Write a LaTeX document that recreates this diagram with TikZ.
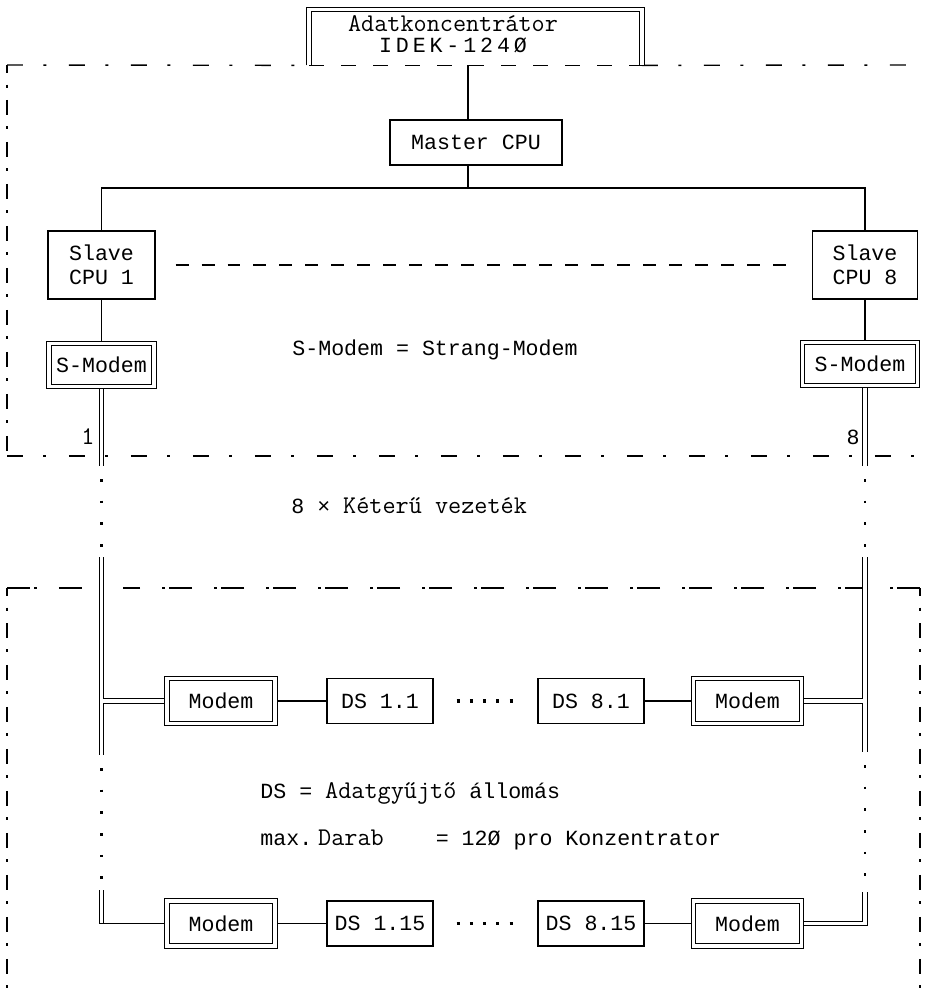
\documentclass[tikz,border=0pt]{standalone}
\usepackage{fontspec}
\usetikzlibrary{positioning,calc,backgrounds}
\newfontfamily\dmfont{Liberation Mono}
\newfontfamily\dmwidefont{Liberation Mono}[LetterSpace=18]
\newcommand\dmtxt{\dmfont\fontsize{12.3}{13.7}\selectfont}
\newcommand\dmwide{\dmwidefont\fontsize{12.3}{13.7}\selectfont}
\newcommand\twtxt{\ttfamily\addfontfeatures{FakeBold=0.7}\fontsize{14.5}{17}\selectfont}
\tikzset{
  box/.style={rectangle, draw, line width=0.6pt, fill=white, inner sep=0pt,
    align=center, font=\dmtxt},
  dbox/.style={box, double, double distance=0.07cm},
  bus/.style={line width=0.6pt},
  dbus/.style={line width=0.6pt, double, double distance=0.07cm},
  dotrun/.style={line width=1.4pt, dash pattern=on 0.05cm off 0.384cm,
    shorten <=0.26cm},
  rowdots/.style={line width=1.8pt, dash pattern=on 0.06cm off 0.206cm,
    shorten <=0.46cm, shorten >=0.48cm},
  fenceH/.style={line width=0.8pt,
    dash pattern=on 0.32cm off 0.41cm on 0.06cm off 0.45cm},
  fenceV/.style={line width=0.8pt,
    dash pattern=on 0.3cm off 0.23cm on 0.06cm off 0.25cm, dash phase=0.14cm},
  fenceL/.style={line width=0.8pt,
    dash pattern=on 0.46cm off 0.09cm on 0.06cm off 0.43cm},
  seam/.style={line width=0.7pt, dash pattern=on 0.3cm off 0.34cm},
  pairdash/.style={line width=0.7pt, dash pattern=on 0.26cm off 0.26cm},
  lbl/.style={inner sep=0pt, font=\dmtxt},
}
\begin{document}
\begin{tikzpicture}[x=0.02cm, y=-0.02cm]
\useasboundingbox (0,0) rectangle (934,988);

\def\xl{101.5}   % linker Strang
\def\xr{865}     % rechter Strang
\def\ybus{188}   % Verteiler unter Master CPU

% Konzentrator, unten offen
\node[minimum width=6.64cm, minimum height=1.1cm, inner sep=0pt,
  label={[xshift=-0.45cm, yshift=0.06cm, align=center, inner sep=0pt]center:%
    {\twtxt Adatkoncentrátor}\\{\dmwide IDEK-124Ø}}]
  (conc) at (475.5,37.5) {};
\draw[dbus] (conc.south west) |- (conc.north) -| (conc.south east);

\node[box, minimum width=3.44cm, minimum height=0.9cm] (master) at (476,142.5)
  {Master CPU};
\node[box, minimum width=2.14cm, minimum height=1.36cm] (slA) at (\xl,265)
  {Slave\\CPU 1};
\node[box, minimum width=2.1cm, minimum height=1.36cm] (slB) at (\xr,265)
  {Slave\\CPU 8};
\node[dbox, minimum width=2.1cm, minimum height=0.86cm] (smA) at (\xl,365)
  {S-Modem};
\node[dbox, minimum width=2.3cm, minimum height=0.86cm] (smB) at (860,364)
  {S-Modem};

\node[lbl, font=\twtxt] (nA) at (88,437) {1};
\node[lbl] (nB) at (853,437) {8};
\node[lbl, anchor=base west] (smnote) at (292,355) {S-Modem = Strang-Modem};
\node[lbl, anchor=base west] (wires) at (291,513)
  {8 × {\twtxt Kéterű vezeték}};
\node[lbl, anchor=base west] (dsnote) at (260,798)
  {DS = {\twtxt Adatgyűjtő} állomás};
\node[lbl, anchor=base west] (maxnote) at (260,845)
  {max.\hspace{0.12cm}{\twtxt Darab}\hspace{1.04cm}= 12Ø pro Konzentrator};

% Datenstationen, zwei Reihen
\foreach \r/\yr/\da/\db in {1/701/1.1/8.1, 2/923.5/1.15/8.15}{
  \node[dbox, minimum width=2.16cm, minimum height=0.9cm] (mA\r) at (221,\yr)
    {Modem};
  \node[box, minimum width=2.12cm, minimum height=0.9cm] (dA\r) at (380,\yr)
    {DS \da};
  \node[box, minimum width=2.12cm, minimum height=0.9cm] (dB\r) at (591,\yr)
    {DS \db};
  \node[dbox, minimum width=2.16cm, minimum height=0.9cm] (mB\r) at (747.5,\yr)
    {Modem};
}

\coordinate (busc) at (468,\ybus);
\coordinate (a1) at (\xl,466);
\coordinate (a2) at (\xl,557);
\coordinate (a3) at (\xl,755);
\coordinate (a4) at (\xl,890);
\coordinate (b1) at (\xr,466);
\coordinate (b2) at (\xr,557);
\coordinate (b3) at (\xr,752);
\coordinate (b4) at (\xr,892);
\coordinate (jA) at (a2 |- mA1.west);
\coordinate (jB) at (b2 |- mB1.east);
\coordinate (kA) at (a4 |- mA2.west);
\coordinate (kB) at (b4 |- mB2.east);

\begin{scope}[on background layer]
  % Rahmen strichpunktiert
  \draw[fenceH] (7,65) -- (conc.south west);
  \draw[fenceH] (conc.south east) -- (908,65);
  \draw[seam] (conc.south west) -- (conc.south east);
  \draw[fenceV] (7,65) -- (7,456);
  \draw[fenceH] (7,456) -- (934,456);
  \draw[fenceL] (7,588) -- (84,588);
  \draw[fenceL] (920,588) -- (123,588);
  \draw[fenceV] (7,588) -- (7,988);
  \draw[fenceV] (920,588) -- (920,988);

  \draw[bus] (busc |- conc.south) -- (busc |- master.north);
  \draw[bus] (busc |- master.south) -- (busc);
  \draw[bus] (slA.north) |- (busc) -| (slB.north);
  \draw[pairdash] ([xshift=0.4cm]slA.east) -- ([xshift=-0.38cm]slB.west);
  \draw[bus] (slA.south) -- (smA.north);
  \draw[bus] (slB.south) -- (slB.south |- smB.north);

  % Zweidrahtleitungen, Strang 1
  \draw[dbus] (smA.south) -- (a1);
  \draw[dotrun] (a1) -- (a2);
  \draw[dbus] (a2) -- (a3);
  \draw[dotrun] (a3) -- (a4);
  \draw[dbus] (a4) -- (kA);
  \draw[dbus] ([xshift=0.035cm]jA) -- (mA1.west);
  \draw[bus] ([xshift=-0.046cm]kA) -- (mA2.west);

  % Strang 8
  \draw[dbus] (smB.south -| b1) -- (b1);
  \draw[dotrun] (b1) -- (b2);
  \draw[dbus] (b2) -- (b3);
  \draw[dotrun] (b3) -- (b4);
  \draw[dbus] (mB2.east) -- (kB) -- (b4);
  \draw[dbus] (mB1.east) -- ([xshift=-0.035cm]jB);

  \foreach \r in {1,2}{
    \draw[bus] (mA\r.east) -- (dA\r.west);
    \draw[rowdots] (dA\r.east) -- (dB\r.west);
    \draw[bus] (dB\r.east) -- (mB\r.west);
  }
\end{scope}

\end{tikzpicture}
\end{document}
